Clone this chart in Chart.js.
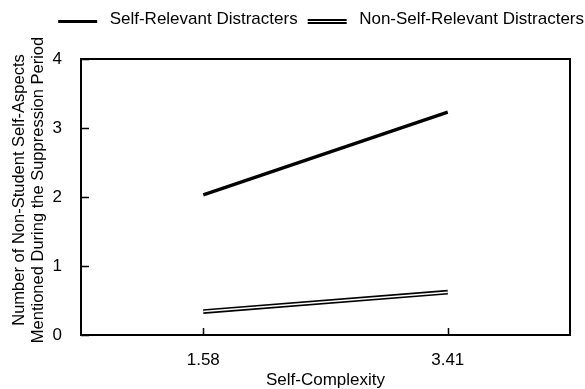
<!DOCTYPE html>
<html>
<head>
<meta charset="utf-8">
<script src="https://cdn.jsdelivr.net/npm/chart.js@4.4.1/dist/chart.umd.min.js"></script>
<style>
  html, body { margin:0; padding:0; background:#fff; }
  #wrap { width:585px; height:389px; }
</style>
</head>
<body>
<div id="wrap"><canvas id="chart" width="585" height="389"></canvas></div>
<script>
// ============ data ============
const X_LABELS = ['1.58', '3.41'];
const SELF_RELEVANT = [2.03, 3.23];
const NON_SELF_RELEVANT = [0.34, 0.62];
const Y_TICKS = [0, 1, 2, 3, 4];
const SERIES_NAMES = ['Self-Relevant Distracters', 'Non-Self-Relevant Distracters'];
const Y_TITLE = ['Number of Non-Student Self-Aspects', 'Mentioned During the Suppression Period'];
const X_TITLE = 'Self-Complexity';

const FONT = 'Arial, "Liberation Sans", Helvetica, sans-serif';

// legend icons (blank on the left = gap before the item)
function legendIcon(double) {
  const c = document.createElement('canvas');
  c.width = 52; c.height = 9;
  const g = c.getContext('2d');
  g.fillStyle = '#000';
  if (double) {
    g.fillRect(9, 4, 39, 5);
    g.fillStyle = '#fff';
    g.fillRect(9, 6, 39, 1);
  } else {
    g.fillRect(9, 5, 39, 3);
  }
  return c;
}
const ICONS = [legendIcon(false), legendIcon(true)];

// box round the plot, inward tick marks, and the two-line y title
// (Chart.js squeezes a rotated title to the plot height, the original runs past it)
const frameTicks = {
  id: 'frameTicks',
  afterDatasetsDraw(chart) {
    const {ctx, scales} = chart;
    const L = scales.x.left, R = scales.x.right, T = scales.y.top, B = scales.y.bottom;
    ctx.save();
    ctx.strokeStyle = '#000';
    ctx.lineWidth = 2;
    ctx.strokeRect(L, T, R - L, B - T);
    ctx.lineWidth = 1.5;
    ctx.beginPath();
    Y_TICKS.forEach(v => {
      const y = Math.round(scales.y.getPixelForValue(v)) + 0.5;
      ctx.moveTo(L, y); ctx.lineTo(L + 8, y);
    });
    X_LABELS.forEach((_, i) => {
      const x = Math.round(scales.x.getPixelForValue(i)) + 0.5;
      ctx.moveTo(x, B); ctx.lineTo(x, B - 7);
    });
    ctx.stroke();

    ctx.fillStyle = '#000';
    ctx.font = '16.5px ' + FONT;
    ctx.textAlign = 'center';
    ctx.textBaseline = 'middle';
    Y_TITLE.forEach((line, i) => {
      ctx.save();
      ctx.translate(19.5 + i * 18.8, 190);
      ctx.rotate(-Math.PI / 2);
      ctx.fillText(line, 0, 0);
      ctx.restore();
    });
    ctx.restore();
  }
};

new Chart(document.getElementById('chart'), {
  type: 'line',
  data: {
    labels: X_LABELS,
    datasets: [
      {label: SERIES_NAMES[0], data: SELF_RELEVANT, borderColor:'#000', borderWidth:3.3, pointRadius:0, tension:0, order:1},
      {label: SERIES_NAMES[1], data: NON_SELF_RELEVANT, borderColor:'#000', borderWidth:4.8, pointRadius:0, tension:0, order:1},
      {label: 'inner', data: NON_SELF_RELEVANT, borderColor:'#fff', borderWidth:1.5, pointRadius:0, tension:0, order:-1}
    ]
  },
  options: {
    responsive:false, devicePixelRatio:1, animation:false,
    layout: {padding:{top:10, left:0, right:0, bottom:0}},
    plugins: {
      tooltip: {enabled:false},
      legend: {
        position:'top', align:'end',
        labels: {
          color:'#000', font:{family:FONT, size:17}, padding:1,
          usePointStyle:true, pointStyleWidth:52,
          generateLabels: () => SERIES_NAMES.map((name, i) => ({
            text: name, pointStyle: ICONS[i], fillStyle:'#000', strokeStyle:'#000', lineWidth:0, hidden:false, datasetIndex:i
          }))
        }
      }
    },
    scales: {
      x: {
        type:'category', offset:true,
        grid:{display:false},
        border:{display:false},
        ticks:{color:'#000', font:{family:FONT, size:17}, padding:7},
        title:{display:true, text:X_TITLE, color:'#000', font:{family:FONT, size:17, lineHeight:1}, padding:0},
        afterFit: s => { s.height = 54; }
      },
      xT: {
        type:'linear', position:'top', display:true,
        grid:{display:false}, ticks:{display:false}, border:{display:false},
        afterFit: s => { s.height = 21; }
      },
      y: {
        min:0, max:4,
        grid:{display:false},
        border:{display:false},
        ticks:{stepSize:1, color:'#000', font:{family:FONT, size:17}, padding:11},
        afterFit: s => { s.width = 81; }
      },
      yR: {
        type:'linear', position:'right', display:true,
        grid:{display:false}, ticks:{display:false}, border:{display:false},
        afterFit: s => { s.width = 15; }
      }
    }
  },
  plugins: [frameTicks]
});
</script>
</body>
</html>
